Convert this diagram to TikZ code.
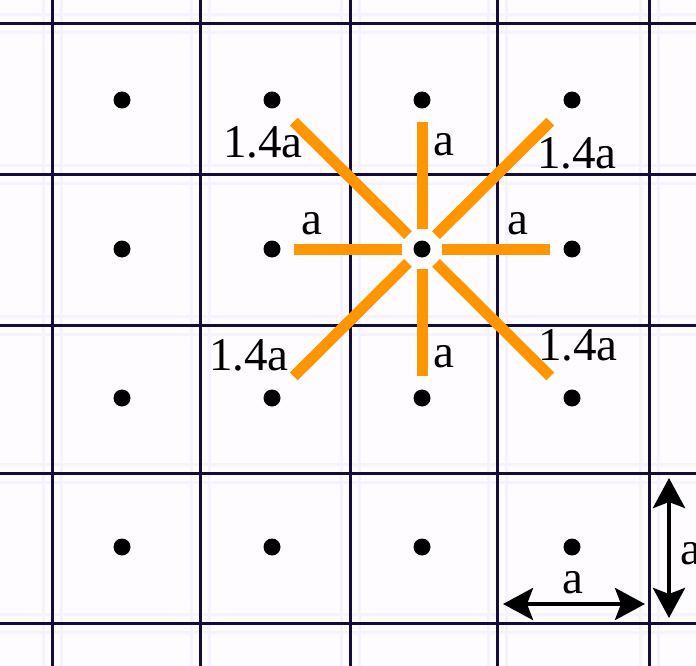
\documentclass[tikz,border=0pt]{standalone}
\usepackage{fontspec}
\setmainfont{Liberation Serif}
\usetikzlibrary{arrows.meta}
\definecolor{grille}{RGB}{20,12,60}
\definecolor{orangeliaison}{RGB}{255,150,0}
\definecolor{fond}{RGB}{254,252,255}
\definecolor{halo}{RGB}{246,242,254}
\tikzset{
	atome/.style={circle,fill=black,inner sep=0pt,minimum size=17pt},
	liaison/.style={orangeliaison,line width=11pt},
	etiq/.style={inner sep=0pt,font=\fontsize{47}{50}\selectfont},
	cote/.style={line width=4.5pt,{Stealth[length=30pt,width=32pt,inset=6pt]}-{Stealth[length=30pt,width=32pt,inset=6pt]}}
}
\begin{document}
\begin{tikzpicture}[x=1pt,y=-1pt]
	\useasboundingbox (0,0) rectangle (696,666);
	\clip (0,0) rectangle (696,666);
	\fill[fond] (0,0) rectangle (696,666);
	% halo autour de la grille
	\foreach \x in {52,200,350,497,649} {
		\draw[halo,line width=3pt] (\x-9,0) -- (\x-9,666);
		\draw[halo,line width=3pt] (\x+9,0) -- (\x+9,666);
	}
	\foreach \y in {24,174,325,473,623} {
		\draw[halo,line width=3pt] (0,\y-9) -- (696,\y-9);
		\draw[halo,line width=3pt] (0,\y+9) -- (696,\y+9);
	}
	% grille
	\foreach \x in {52,200,350,497,649} \draw[grille,line width=3pt] (\x,0) -- (\x,666);
	\foreach \y in {24,174,325,473,623} \draw[grille,line width=3pt] (0,\y) -- (696,\y);
	% atomes
	\foreach \i in {0,...,3}
		\foreach \j in {0,...,3}
			\node[atome] (d\i\j) at ({122+150*\i},{100+149*\j}) {};
	% premiers voisins
	\foreach \n in {d20,d11,d31,d22}
		\draw[liaison,shorten <=11pt,shorten >=13pt] (d21) -- (\n);
	% seconds voisins
	\foreach \n in {d10,d30,d12,d32}
		\draw[liaison,shorten <=11pt,shorten >=22pt] (d21) -- (\n);
	% distances
	\node[etiq] (e1) at (263,142) {1.4a};
	\node[etiq] (e2) at (577,153) {1.4a};
	\node[etiq] (e3) at (249,355) {1.4a};
	\node[etiq] (e4) at (578,345) {1.4a};
	\node[etiq] (a1) at (444,145) {a};
	\node[etiq] (a2) at (312,224) {a};
	\node[etiq] (a3) at (518,224) {a};
	\node[etiq] (a4) at (444,357) {a};
	% pas du reseau
	\coordinate (h1) at (503,604);
	\coordinate (h2) at (645,604);
	\draw[cote] (h1) -- (h2);
	\node[etiq] (ah) at (573,583) {a};
	\coordinate (v1) at (669,478);
	\coordinate (v2) at (669,618);
	\draw[cote] (v1) -- (v2);
	\node[etiq] (av) at (691,554) {a};
\end{tikzpicture}
\end{document}
